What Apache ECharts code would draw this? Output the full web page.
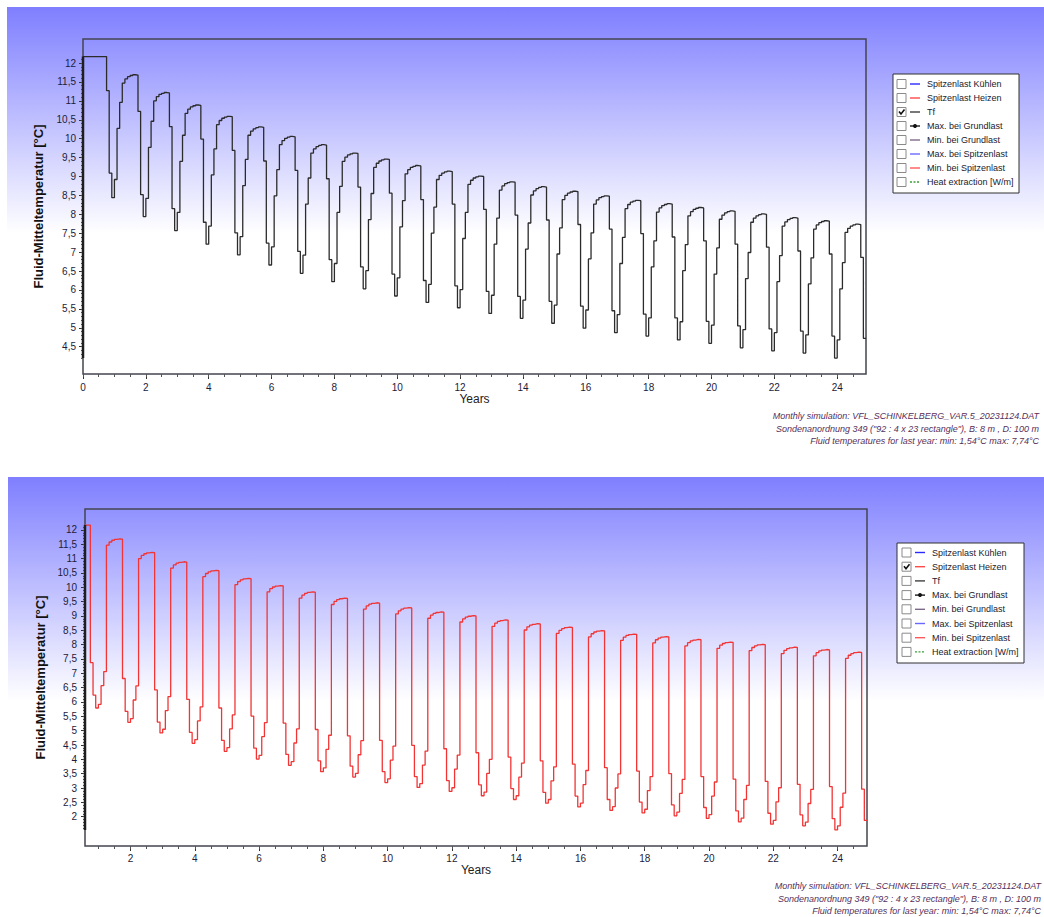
<!DOCTYPE html>
<html>
<head>
<meta charset="utf-8">
<script src="https://cdn.jsdelivr.net/npm/echarts@6/dist/echarts.min.js"></script>
<style>
html,body{margin:0;padding:0;background:#ffffff;}
#c{width:1044px;height:917px;}
</style>
</head>
<body>
<div id="c"></div>
<script>
// ---------------- DATA ----------------
// Tf (fluid mean temperature, °C), monthly values starting at month 0 (year 0)
const tfMonthly = [
  12.17, 12.17, 12.17, 12.17, 12.17, 12.17, 12.17, 12.17, 12.17, 11.27, 9.09, 8.44,
  8.92, 10.27, 10.96, 11.47, 11.58, 11.64, 11.67, 11.69, 11.68, 10.72, 8.52, 7.94,
  8.42, 9.77, 10.46, 11.00, 11.11, 11.17, 11.20, 11.22, 11.21, 10.32, 8.15, 7.57,
  8.05, 9.40, 10.09, 10.67, 10.78, 10.84, 10.87, 10.89, 10.88, 9.99, 7.79, 7.21,
  7.69, 9.04, 9.73, 10.37, 10.48, 10.54, 10.57, 10.59, 10.58, 9.69, 7.51, 6.93,
  7.41, 8.76, 9.45, 10.09, 10.20, 10.26, 10.29, 10.31, 10.30, 9.41, 7.24, 6.66,
  7.14, 8.49, 9.18, 9.84, 9.95, 10.01, 10.04, 10.06, 10.05, 9.16, 7.02, 6.44,
  6.92, 8.27, 8.96, 9.62, 9.73, 9.79, 9.82, 9.84, 9.83, 8.94, 6.80, 6.22,
  6.70, 8.05, 8.74, 9.40, 9.51, 9.57, 9.60, 9.62, 9.61, 8.72, 6.61, 6.03,
  6.51, 7.86, 8.55, 9.24, 9.35, 9.41, 9.44, 9.46, 9.45, 8.56, 6.42, 5.84,
  6.32, 7.67, 8.36, 9.07, 9.18, 9.24, 9.27, 9.29, 9.28, 8.39, 6.25, 5.67,
  6.15, 7.50, 8.19, 8.92, 9.03, 9.09, 9.12, 9.14, 9.13, 8.27, 6.11, 5.53,
  6.01, 7.36, 8.05, 8.79, 8.90, 8.96, 8.99, 9.01, 9.00, 8.13, 5.96, 5.38,
  5.86, 7.21, 7.90, 8.64, 8.75, 8.81, 8.84, 8.86, 8.85, 7.98, 5.83, 5.25,
  5.73, 7.08, 7.77, 8.51, 8.62, 8.68, 8.71, 8.73, 8.72, 7.85, 5.70, 5.12,
  5.60, 6.95, 7.64, 8.39, 8.50, 8.56, 8.59, 8.61, 8.60, 7.73, 5.57, 4.99,
  5.47, 6.82, 7.51, 8.27, 8.38, 8.44, 8.47, 8.49, 8.48, 7.61, 5.45, 4.87,
  5.35, 6.70, 7.39, 8.15, 8.26, 8.32, 8.35, 8.37, 8.36, 7.49, 5.36, 4.78,
  5.26, 6.61, 7.30, 8.06, 8.17, 8.23, 8.26, 8.28, 8.27, 7.40, 5.26, 4.68,
  5.16, 6.51, 7.20, 7.96, 8.07, 8.13, 8.16, 8.18, 8.17, 7.30, 5.17, 4.59,
  5.07, 6.42, 7.11, 7.87, 7.98, 8.04, 8.07, 8.09, 8.08, 7.21, 5.05, 4.47,
  4.95, 6.30, 6.99, 7.79, 7.90, 7.96, 7.99, 8.01, 8.00, 7.13, 4.97, 4.39,
  4.87, 6.22, 6.91, 7.69, 7.80, 7.86, 7.89, 7.91, 7.90, 7.03, 4.91, 4.33,
  4.81, 6.16, 6.85, 7.61, 7.72, 7.78, 7.81, 7.83, 7.82, 6.95, 4.78, 4.20,
  4.68, 6.03, 6.72, 7.52, 7.63, 7.69, 7.72, 7.74, 7.73, 6.86, 4.72
];
const tfStartMonth = 0;

// Spitzenlast Heizen (peak heating), monthly values starting at month 7 (year 0)
const peakHeatMonthly = [
  12.17, 12.17, 7.37, 6.24, 5.79,
  5.92, 6.57, 7.06, 11.47, 11.58, 11.64, 11.67, 11.69, 11.68, 6.82, 5.67, 5.29,
  5.42, 6.07, 6.56, 11.00, 11.11, 11.17, 11.20, 11.22, 11.21, 6.42, 5.30, 4.92,
  5.05, 5.70, 6.19, 10.67, 10.78, 10.84, 10.87, 10.89, 10.88, 6.09, 4.94, 4.56,
  4.69, 5.34, 5.83, 10.37, 10.48, 10.54, 10.57, 10.59, 10.58, 5.79, 4.66, 4.28,
  4.41, 5.06, 5.55, 10.09, 10.20, 10.26, 10.29, 10.31, 10.30, 5.51, 4.39, 4.01,
  4.14, 4.79, 5.28, 9.84, 9.95, 10.01, 10.04, 10.06, 10.05, 5.26, 4.17, 3.79,
  3.92, 4.57, 5.06, 9.62, 9.73, 9.79, 9.82, 9.84, 9.83, 5.04, 3.95, 3.57,
  3.70, 4.35, 4.84, 9.40, 9.51, 9.57, 9.60, 9.62, 9.61, 4.82, 3.76, 3.38,
  3.51, 4.16, 4.65, 9.24, 9.35, 9.41, 9.44, 9.46, 9.45, 4.66, 3.57, 3.19,
  3.32, 3.97, 4.46, 9.07, 9.18, 9.24, 9.27, 9.29, 9.28, 4.49, 3.40, 3.02,
  3.15, 3.80, 4.29, 8.92, 9.03, 9.09, 9.12, 9.14, 9.13, 4.37, 3.26, 2.88,
  3.01, 3.66, 4.15, 8.79, 8.90, 8.96, 8.99, 9.01, 9.00, 4.23, 3.11, 2.73,
  2.86, 3.51, 4.00, 8.64, 8.75, 8.81, 8.84, 8.86, 8.85, 4.08, 2.98, 2.60,
  2.73, 3.38, 3.87, 8.51, 8.62, 8.68, 8.71, 8.73, 8.72, 3.95, 2.85, 2.47,
  2.60, 3.25, 3.74, 8.39, 8.50, 8.56, 8.59, 8.61, 8.60, 3.83, 2.72, 2.34,
  2.47, 3.12, 3.61, 8.27, 8.38, 8.44, 8.47, 8.49, 8.48, 3.71, 2.60, 2.22,
  2.35, 3.00, 3.49, 8.15, 8.26, 8.32, 8.35, 8.37, 8.36, 3.59, 2.51, 2.13,
  2.26, 2.91, 3.40, 8.06, 8.17, 8.23, 8.26, 8.28, 8.27, 3.50, 2.41, 2.03,
  2.16, 2.81, 3.30, 7.96, 8.07, 8.13, 8.16, 8.18, 8.17, 3.40, 2.32, 1.94,
  2.07, 2.72, 3.21, 7.87, 7.98, 8.04, 8.07, 8.09, 8.08, 3.31, 2.20, 1.82,
  1.95, 2.60, 3.09, 7.79, 7.90, 7.96, 7.99, 8.01, 8.00, 3.23, 2.12, 1.74,
  1.87, 2.52, 3.01, 7.69, 7.80, 7.86, 7.89, 7.91, 7.90, 3.13, 2.06, 1.68,
  1.81, 2.46, 2.95, 7.61, 7.72, 7.78, 7.81, 7.83, 7.82, 3.05, 1.93, 1.54,
  1.68, 2.33, 2.82, 7.52, 7.63, 7.69, 7.72, 7.74, 7.73, 2.96, 1.87
];
const peakHeatStartMonth = 7;

// Tick labels
const xTickLabelsTop = [0, 2, 4, 6, 8, 10, 12, 14, 16, 18, 20, 22, 24];
const xTickLabelsBottom = [2, 4, 6, 8, 10, 12, 14, 16, 18, 20, 22, 24];
const yTickLabelsTop = [4.5, 5, 5.5, 6, 6.5, 7, 7.5, 8, 8.5, 9, 9.5, 10, 10.5, 11, 11.5, 12];
const yTickLabelsBottom = [2, 2.5, 3, 3.5, 4, 4.5, 5, 5.5, 6, 6.5, 7, 7.5, 8, 8.5, 9, 9.5, 10, 10.5, 11, 11.5, 12];

// Legend entries
const legendNames = ['Spitzenlast Kühlen', 'Spitzenlast Heizen', 'Tf', 'Max. bei Grundlast',
  'Min. bei Grundlast', 'Max. bei Spitzenlast', 'Min. bei Spitzenlast', 'Heat extraction [W/m]'];
const legendColors = ['#2a2aff', '#ff4a4a', '#404040', '#1a1a1a', '#806a8a', '#6a6aff', '#ff5a5a', '#3aa03a'];
const legendCheckedTop = 2;
const legendCheckedBottom = 1;

const footerLines = [
  'Monthly simulation: VFL_SCHINKELBERG_VAR.5_20231124.DAT',
  'Sondenanordnung 349 ("92 : 4 x 23 rectangle"), B: 8 m , D: 100 m',
  'Fluid temperatures for last year: min: 1,54°C max: 7,74°C'
];
const yAxisTitle = 'Fluid-Mitteltemperatur [°C]';
const xAxisTitle = 'Years';

// ---------------- BUILD ----------------
const FONT = 'Liberation Sans, Arial, sans-serif';
const LABEL_COLOR = '#1c1c3a';

function toPoints(values, startMonth) {
  const pts = values.map((v, i) => [(startMonth + i) / 12, v]);
  pts.push([(startMonth + values.length) / 12, values[values.length - 1]]);
  return pts;
}
function range(a, b, step) {
  const out = [];
  for (let v = a; v <= b + 1e-9; v += step) out.push(Math.round(v * 100) / 100);
  return out;
}
const fmt = v => String(v).replace('.', ',');

const panels = [
  {
    values: tfMonthly, start: tfStartMonth, color: '#2b2b2b',
    grid: { left: 83, top: 39, width: 783, height: 335 },
    yMin: 3.778, yMax: 12.635, xLabels: xTickLabelsTop, yLabels: yTickLabelsTop,
    labelMarginX: 8, labelMarginY: 7, nameGapX: 18
  },
  {
    values: peakHeatMonthly, start: peakHeatStartMonth, color: '#f23434',
    grid: { left: 85, top: 509, width: 782, height: 337 },
    yMin: 0.978, yMax: 12.73, xLabels: xTickLabelsBottom, yLabels: yTickLabelsBottom,
    labelMarginX: 7, labelMarginY: 8, nameGapX: 17
  }
];

const grids = [], xAxes = [], yAxes = [], series = [];
panels.forEach((p, gi) => {
  const xMin = p.start / 12;
  const xMax = (p.start + p.values.length) / 12;
  const dMin = Math.min(...p.values), dMax = Math.max(...p.values);
  grids.push(Object.assign({ show: true, borderColor: '#444450', borderWidth: 1.5, backgroundColor: 'transparent', containLabel: false }, p.grid));
  xAxes.push({
    type: 'value', gridIndex: gi, position: 'bottom', min: xMin, max: xMax,
    axisLine: { show: false }, splitLine: { show: false },
    axisTick: { show: true, length: 5, customValues: p.xLabels, lineStyle: { color: '#333' } },
    axisLabel: { customValues: p.xLabels, margin: p.labelMarginX, fontSize: 10, fontFamily: FONT, color: LABEL_COLOR },
    name: xAxisTitle, nameLocation: 'middle', nameGap: p.nameGapX,
    nameTextStyle: { fontSize: 12, fontFamily: FONT, color: '#222', verticalAlign: 'top' }
  });
  xAxes.push({
    type: 'value', gridIndex: gi, position: 'bottom', min: xMin, max: xMax,
    axisLine: { show: false }, splitLine: { show: false },
    axisTick: { show: true, length: 3, customValues: range(Math.ceil(xMin * 2) / 2, Math.floor(xMax * 2) / 2, 0.5), lineStyle: { color: '#555' } },
    axisLabel: { show: false }
  });
  yAxes.push({
    type: 'value', gridIndex: gi, position: 'left', min: p.yMin, max: p.yMax,
    axisLine: { show: false }, splitLine: { show: false },
    axisTick: { show: true, length: 4, customValues: p.yLabels, lineStyle: { color: '#333' } },
    axisLabel: { customValues: p.yLabels, formatter: fmt, margin: p.labelMarginY, fontSize: 10, fontFamily: FONT, color: LABEL_COLOR },
    name: yAxisTitle, nameLocation: 'middle', nameGap: 38, nameRotate: 90,
    nameTextStyle: { fontSize: 13, fontWeight: 'bold', fontFamily: FONT, color: '#111' }
  });
  yAxes.push({
    type: 'value', gridIndex: gi, position: 'left', min: p.yMin, max: p.yMax,
    axisLine: { show: false }, splitLine: { show: false },
    axisTick: { show: true, length: 2, customValues: range(Math.ceil(dMin * 10) / 10, Math.floor(dMax * 10) / 10, 0.1), lineStyle: { color: '#555' } },
    axisLabel: { show: false }
  });
  series.push({
    type: 'line', xAxisIndex: gi * 2, yAxisIndex: gi * 2, step: 'end',
    showSymbol: false, symbol: 'none', silent: true, animation: false,
    lineStyle: { color: p.color, width: 1.3 },
    data: toPoints(p.values, p.start), z: 3
  });
  series.push({
    type: 'line', xAxisIndex: gi * 2, yAxisIndex: gi * 2,
    showSymbol: false, symbol: 'none', silent: true, animation: false,
    lineStyle: { color: '#1e1e1e', width: 2.5 },
    data: [[xMin, dMin], [xMin, dMax]], z: 4
  });
});

// ---------------- GRAPHICS (backgrounds, legend boxes, footers) ----------------
const graphics = [];
function background(x, y, w, h) {
  graphics.push({
    type: 'rect', z: -10, silent: true,
    shape: { x: x, y: y, width: w, height: h },
    style: {
      fill: new echarts.graphic.LinearGradient(0, 0, 0, 1, [
        { offset: 0, color: '#7f7fff' },
        { offset: 0.51, color: '#ffffff' },
        { offset: 1, color: '#ffffff' }
      ])
    }
  });
}
background(7, 7, 1037, 444);
background(8, 477, 1036, 440);

function legendBox(bx, by, bw, bh, rowY0, rowStep, cbX, lineX1, lineX2, textX, checked) {
  const children = [];
  children.push({ type: 'rect', shape: { x: bx, y: by, width: bw, height: bh }, style: { fill: '#ffffff', stroke: '#303030', lineWidth: 1 } });
  legendNames.forEach((name, i) => {
    const cy = rowY0 + i * rowStep;
    children.push({ type: 'rect', shape: { x: cbX, y: cy - 4.5, width: 9, height: 9 }, style: { fill: '#ffffff', stroke: '#8a8a8a', lineWidth: 1 } });
    if (i === checked) {
      children.push({ type: 'polyline', shape: { points: [[cbX + 2, cy - 0.5], [cbX + 4, cy + 2], [cbX + 7.5, cy - 2.5]] }, style: { stroke: '#111', lineWidth: 1.6, fill: null } });
    }
    const lineStyle = { stroke: legendColors[i], lineWidth: 1.4 };
    if (i === 7) lineStyle.lineDash = [2, 1.5];
    children.push({ type: 'line', shape: { x1: lineX1, y1: cy, x2: lineX2, y2: cy }, style: lineStyle });
    if (i === 3) {
      children.push({ type: 'circle', shape: { cx: (lineX1 + lineX2) / 2, cy: cy, r: 2 }, style: { fill: '#111' } });
    }
    children.push({ type: 'text', x: textX, y: cy, style: { text: name, font: '9px ' + FONT, fill: '#1a1a2e', textVerticalAlign: 'middle', verticalAlign: 'middle' } });
  });
  graphics.push({ type: 'group', children: children, z: 10 });
}
legendBox(893, 74, 126, 119, 84, 14, 897, 910, 920, 927, legendCheckedTop);
legendBox(897, 543, 127, 120, 552.5, 14.2, 902, 915, 925, 932, legendCheckedBottom);

function footer(rightX, y0, step) {
  footerLines.forEach((t, i) => {
    graphics.push({
      type: 'text', z: 10, x: rightX, y: y0 + i * step,
      style: { text: t, font: 'italic 9px ' + FONT, fill: '#55305a', textAlign: 'right', align: 'right', textVerticalAlign: 'middle', verticalAlign: 'middle' }
    });
  });
}
footer(1039, 416, 12.5);
footer(1041, 886, 12.7);

const chart = echarts.init(document.getElementById('c'), null, { renderer: 'svg', width: 1044, height: 917 });
chart.setOption({
  animation: false,
  backgroundColor: '#ffffff',
  grid: grids,
  xAxis: xAxes,
  yAxis: yAxes,
  series: series,
  graphic: graphics
});
</script>
</body>
</html>
